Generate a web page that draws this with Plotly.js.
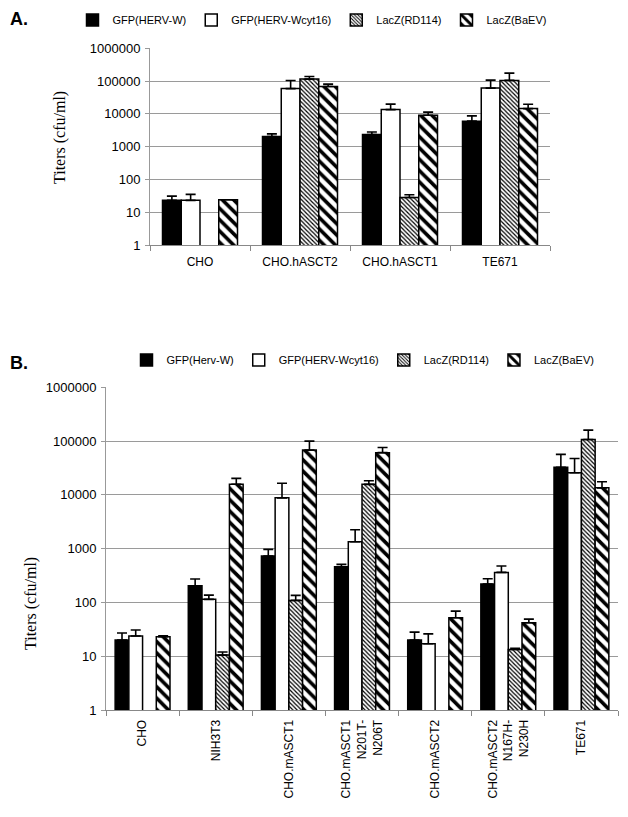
<!DOCTYPE html>
<html><head><meta charset="utf-8">
<script src="https://cdn.plot.ly/plotly-3.0.1.min.js"></script>
<style>html,body{margin:0;padding:0;background:#fff}#chart{width:628px;height:817px}</style>
</head><body><div id="chart"></div>
<script>
// ---------- Panel A data ----------
const namesA = ["GFP(HERV-W)", "GFP(HERV-Wcyt16)", "LacZ(RD114)", "LacZ(BaEV)"];
const cellsA = ["CHO", "CHO.hASCT2", "CHO.hASCT1", "TE671"];
const hervW_A      = [23, 2050, 2350, 6000];
const hervW_A_err  = [8, 410, 450, 2700];
const cyt16_A      = [23, 59000, 13500, 61000];
const cyt16_A_err  = [12, 45000, 6300, 46000];
const rd114_A      = [null, 115000, 28, 105000];
const rd114_A_err  = [0, 23000, 6, 70000];
const baev_A       = [24, 68000, 9100, 14500];
const baev_A_err   = [0, 13000, 2200, 5100];

// ---------- Panel B data ----------
const namesB = ["GFP(Herv-W)", "GFP(HERV-Wcyt16)", "LacZ(RD114)", "LacZ(BaEV)"];
const cellsB = ["CHO", "NIH3T3", "CHO.mASCT1", "CHO.mASCT1<br>N201T-<br>N206T", "CHO.mASCT2", "CHO.mASCT2<br>N167H-<br>N230H", "TE671"];
const hervW_B      = [20, 204, 730, 460, 20, 220, 32500];
const hervW_B_err  = [7, 68, 240, 50, 8, 55, 24000];
const cyt16_B      = [23.7, 114, 8800, 1340, 17, 362, 25800];
const cyt16_B_err  = [7, 23, 7600, 900, 9, 113, 21700];
const rd114_B      = [null, 10.5, 109, 15700, null, 13.4, 107000];
const rd114_B_err  = [0, 1.5, 26, 2600, 0, 0.6, 53000];
const baev_B       = [23, 15800, 68000, 61000, 52, 42, 13500];
const baev_B_err   = [1, 4500, 32000, 15000, 17, 7, 4000];

const yTicks = [1, 10, 100, 1000, 10000, 100000, 1000000];
const yTickText = ["1", "10", "100", "1000", "10000", "100000", "1000000"];

// ---------- styles ----------
const styles = [
  {color: "#000", pattern: {shape: ""}},
  {color: "#fff", pattern: {shape: ""}},
  {color: "#fff", pattern: {shape: "\\", fgcolor: "#000", bgcolor: "#fff", size: 3, solidity: 0.4}},
  {color: "#fff", pattern: {shape: "\\", fgcolor: "#000", bgcolor: "#fff", size: 8, solidity: 0.45}}
];

function makeTraces(names, cells, vals, errs, xa, ya, leg) {
  return vals.map((v, i) => ({
    type: "bar",
    name: names[i],
    x: cells, y: v,
    xaxis: xa, yaxis: ya, legend: leg,
    marker: {color: styles[i].color, pattern: styles[i].pattern, line: {color: "#000", width: 1.5}},
    error_y: {type: "data", symmetric: false, array: errs[i], arrayminus: errs[i].map(() => 0),
              color: "#000", thickness: 1.6, width: 5},
    hoverinfo: "x+y+name"
  }));
}

const traces = [].concat(
  makeTraces(namesA, cellsA, [hervW_A, cyt16_A, rd114_A, baev_A],
             [hervW_A_err, cyt16_A_err, rd114_A_err, baev_A_err], "x", "y", "legend"),
  makeTraces(namesB, cellsB, [hervW_B, cyt16_B, rd114_B, baev_B],
             [hervW_B_err, cyt16_B_err, rd114_B_err, baev_B_err], "x2", "y2", "legend2")
);

const W = 628, H = 817;
const px = x => x / W, py = y => 1 - y / H;
const sans = "Liberation Sans, Arial, sans-serif";
const serif = "Liberation Serif, Times New Roman, serif";

const yCommon = {
  type: "log", range: [0, 6], tickmode: "array", tickvals: yTicks, ticktext: yTickText,
  showgrid: true, gridcolor: "#9a9a9a", gridwidth: 1, showline: true, linecolor: "#999", linewidth: 1,
  ticks: "outside", ticklen: 4, tickcolor: "#999", ticklabelstandoff: 2,
  tickfont: {family: sans, size: 13, color: "#000"}, fixedrange: true
};
const xCommon = {
  type: "category", showline: true, linecolor: "#888", linewidth: 1,
  ticks: "outside", tickson: "boundaries", ticklen: 5, tickcolor: "#888",
  tickfont: {family: sans, size: 12, color: "#000"}, showgrid: false, fixedrange: true
};

const layout = {
  width: W, height: H,
  margin: {l: 0, r: 0, t: 0, b: 0},
  paper_bgcolor: "#fff", plot_bgcolor: "#fff",
  barmode: "group", bargap: 0.25, bargroupgap: 0,
  showlegend: true,
  xaxis: Object.assign({}, xCommon, {domain: [px(150), px(550)], anchor: "y", tickangle: 0, ticklabelstandoff: 6}),
  yaxis: Object.assign({}, yCommon, {domain: [py(245), py(48.3)], anchor: "x"}),
  xaxis2: Object.assign({}, xCommon, {domain: [px(106), px(618)], anchor: "y2", tickangle: -90, ticklabelstandoff: 4}),
  yaxis2: Object.assign({}, yCommon, {domain: [py(710), py(387.3)], anchor: "x2"}),
  legend: {orientation: "h", x: px(312), y: py(20), xanchor: "center", yanchor: "middle",
           font: {family: sans, size: 11, color: "#000"}, itemwidth: 30, bgcolor: "rgba(0,0,0,0)", traceorder: "normal"},
  legend2: {orientation: "h", x: px(363), y: py(360), xanchor: "center", yanchor: "middle",
           font: {family: sans, size: 11, color: "#000"}, itemwidth: 30, bgcolor: "rgba(0,0,0,0)", traceorder: "normal"},
  annotations: [
    {text: "<b>A.</b>", xref: "paper", yref: "paper", x: px(8), y: py(19), xanchor: "left", yanchor: "middle",
     showarrow: false, font: {family: sans, size: 18, color: "#000"}},
    {text: "<b>B.</b>", xref: "paper", yref: "paper", x: px(8), y: py(363), xanchor: "left", yanchor: "middle",
     showarrow: false, font: {family: sans, size: 18, color: "#000"}},
    {text: "Titers (cfu/ml)", xref: "paper", yref: "paper", x: px(60), y: py(138), xanchor: "center", yanchor: "middle",
     textangle: -90, showarrow: false, font: {family: serif, size: 16, color: "#000"}},
    {text: "Titers (cfu/ml)", xref: "paper", yref: "paper", x: px(31), y: py(604), xanchor: "center", yanchor: "middle",
     textangle: -90, showarrow: false, font: {family: serif, size: 16, color: "#000"}}
  ]
};

Plotly.newPlot("chart", traces, layout, {staticPlot: true, displayModeBar: false});
</script>
</body></html>
